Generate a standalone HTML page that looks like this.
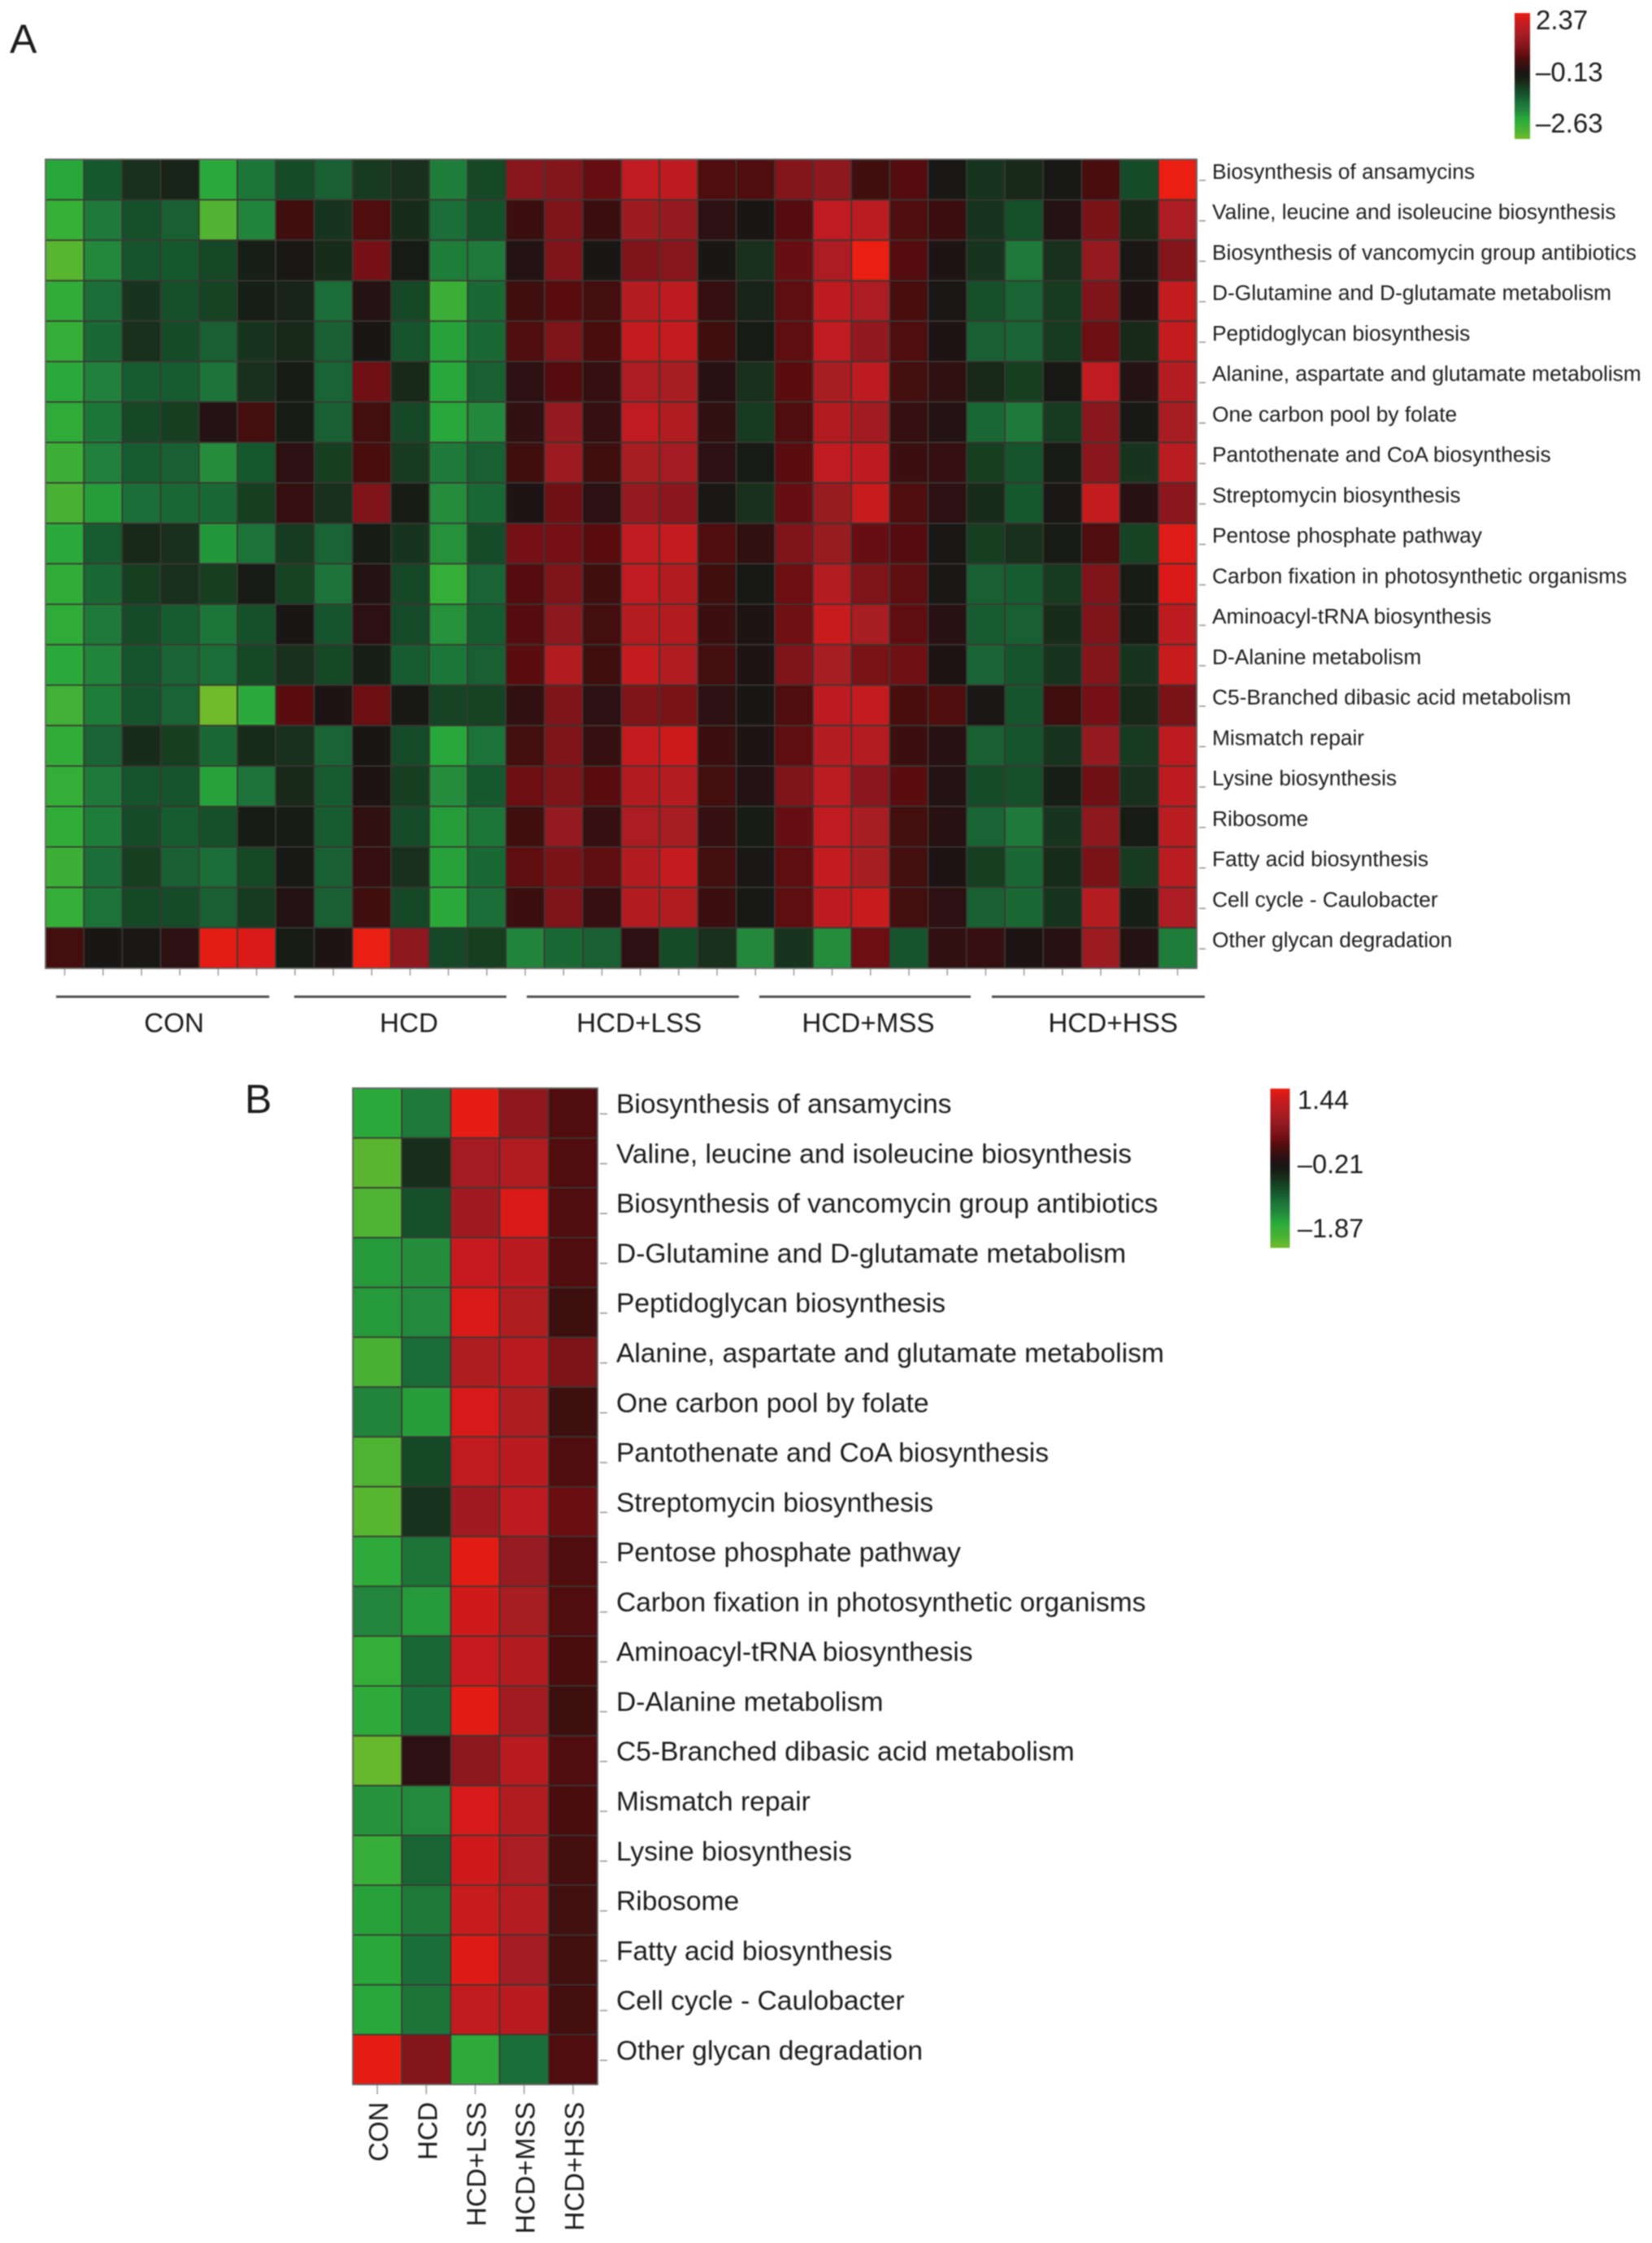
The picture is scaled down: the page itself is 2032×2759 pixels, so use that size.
<!DOCTYPE html>
<html lang="en">
<head>
<meta charset="utf-8">
<title>Pathway heatmaps</title>
<style>
html,body{margin:0;padding:0;background:#fff;}
#chart{display:block;width:2032px;height:2759px;filter:blur(0.7px);}
text{font-family:"Liberation Sans",Arial,sans-serif;fill:#1c1c1c;}
</style>
</head>
<body>
<svg id="chart" xmlns="http://www.w3.org/2000/svg" width="2032" height="2759" viewBox="0 0 2032 2759"></svg>
<script>
const pathways = [
"Biosynthesis of ansamycins",
"Valine, leucine and isoleucine biosynthesis",
"Biosynthesis of vancomycin group antibiotics",
"D-Glutamine and D-glutamate metabolism",
"Peptidoglycan biosynthesis",
"Alanine, aspartate and glutamate metabolism",
"One carbon pool by folate",
"Pantothenate and CoA biosynthesis",
"Streptomycin biosynthesis",
"Pentose phosphate pathway",
"Carbon fixation in photosynthetic organisms",
"Aminoacyl-tRNA biosynthesis",
"D-Alanine metabolism",
"C5-Branched dibasic acid metabolism",
"Mismatch repair",
"Lysine biosynthesis",
"Ribosome",
"Fatty acid biosynthesis",
"Cell cycle - Caulobacter",
"Other glycan degradation"
];
const groups = ["CON","HCD","HCD+LSS","HCD+MSS","HCD+HSS"];
const legendTicksA = [2.37,-0.13,-2.63];
const legendTicksB = [1.44,-0.21,-1.87];
const valuesA = [
[-1.8,-0.9,-0.45,-0.3,-1.85,-1.25,-0.75,-1.0,-0.55,-0.45,-1.35,-0.7,1.1,1.05,0.75,1.9,1.85,0.55,0.55,1.05,1.2,0.4,0.6,-0.05,-0.5,-0.35,-0.1,0.5,-0.75,2.37],
[-2.05,-1.3,-0.8,-1.0,-2.35,-1.45,0.4,-0.5,0.55,-0.4,-1.15,-0.8,0.35,1.0,0.35,1.4,1.3,0.2,0.0,0.6,1.9,1.8,0.55,0.35,-0.5,-0.8,0.1,0.95,-0.35,1.6],
[-2.4,-1.5,-0.85,-0.9,-0.7,-0.25,-0.05,-0.4,0.9,-0.15,-1.35,-1.3,0.1,1.0,0.0,1.0,1.1,0.0,-0.45,0.75,1.6,2.37,0.6,0.05,-0.5,-1.3,-0.45,1.3,-0.05,1.05],
[-1.95,-1.15,-0.5,-0.8,-0.65,-0.25,-0.3,-1.15,0.1,-0.7,-2.1,-1.1,0.4,0.65,0.45,1.75,1.85,0.3,-0.3,0.7,1.85,1.6,0.5,-0.05,-0.8,-1.05,-0.55,1.0,0.05,1.95],
[-2.0,-1.1,-0.45,-0.75,-1.0,-0.5,-0.35,-1.0,0.0,-0.85,-1.75,-1.1,0.55,1.0,0.5,1.95,1.95,0.4,-0.15,0.7,1.9,1.25,0.55,0.05,-1.0,-1.05,-0.55,0.8,-0.35,1.95],
[-1.85,-1.4,-0.95,-0.95,-1.2,-0.45,-0.2,-1.05,0.85,-0.35,-1.8,-1.0,0.2,0.6,0.3,1.6,1.55,0.15,-0.45,0.65,1.55,1.85,0.45,0.25,-0.35,-0.6,-0.1,1.9,0.1,1.75],
[-1.9,-1.25,-0.7,-0.6,0.1,0.45,-0.2,-1.0,0.45,-0.7,-1.8,-1.5,0.25,1.3,0.3,1.9,1.65,0.25,-0.55,0.55,1.7,1.45,0.3,0.1,-1.1,-1.3,-0.55,1.15,-0.1,1.55],
[-2.1,-1.4,-0.95,-1.0,-1.55,-0.9,0.2,-0.6,0.5,-0.55,-1.3,-1.0,0.4,1.4,0.4,1.55,1.5,0.2,-0.15,0.65,1.9,1.85,0.35,0.3,-0.6,-0.85,-0.15,1.15,-0.5,1.8],
[-2.25,-1.7,-1.15,-1.1,-1.1,-0.6,0.3,-0.45,1.0,-0.2,-1.55,-1.1,0.05,0.85,0.2,1.3,1.15,-0.05,-0.45,0.75,1.35,2.0,0.55,0.2,-0.4,-0.9,-0.05,1.95,0.15,1.15],
[-1.85,-0.95,-0.35,-0.45,-1.65,-1.2,-0.55,-1.05,-0.2,-0.5,-1.6,-0.75,0.9,0.9,0.65,1.9,1.95,0.55,0.25,1.0,1.35,0.75,0.6,-0.05,-0.6,-0.45,-0.15,0.55,-0.65,2.25],
[-1.95,-1.1,-0.6,-0.45,-0.6,-0.15,-0.65,-1.2,0.1,-0.7,-2.0,-1.05,0.6,1.0,0.4,1.9,1.7,0.4,-0.1,0.8,1.75,1.0,0.7,-0.05,-1.0,-0.95,-0.55,1.0,-0.2,2.2],
[-1.9,-1.3,-0.75,-0.95,-1.25,-0.8,0.0,-0.85,0.2,-0.75,-1.6,-0.95,0.6,1.2,0.45,1.75,1.7,0.35,0.05,0.85,2.0,1.55,0.7,0.15,-0.95,-1.0,-0.4,1.0,-0.2,1.85],
[-1.85,-1.45,-0.85,-1.05,-1.15,-0.7,-0.45,-0.7,-0.25,-0.95,-1.25,-1.0,0.65,1.7,0.4,1.95,1.65,0.45,0.05,1.0,1.55,0.95,0.85,0.05,-1.05,-0.85,-0.5,1.05,-0.5,2.0],
[-2.15,-1.35,-0.85,-1.05,-2.6,-1.85,0.65,0.05,0.8,-0.1,-0.65,-0.65,0.25,1.0,0.2,1.0,0.95,0.2,0.0,0.55,1.85,1.95,0.5,0.55,-0.05,-0.85,0.4,0.9,-0.35,0.95],
[-1.95,-1.05,-0.4,-0.6,-1.1,-0.4,-0.45,-1.05,0.0,-0.75,-1.8,-1.2,0.45,1.0,0.3,1.95,2.05,0.35,0.05,0.7,1.75,1.75,0.35,0.15,-1.0,-0.85,-0.5,1.3,-0.55,1.85],
[-2.0,-1.3,-0.85,-0.85,-1.75,-1.2,-0.35,-0.95,0.05,-0.6,-1.55,-0.9,0.8,1.0,0.65,1.7,1.75,0.45,0.1,1.0,1.8,1.15,0.65,0.1,-0.75,-0.8,-0.25,0.85,-0.45,1.85],
[-1.95,-1.35,-0.75,-0.95,-0.8,-0.2,-0.2,-0.95,0.25,-0.75,-1.7,-1.25,0.4,1.3,0.3,1.6,1.55,0.3,-0.2,0.75,1.9,1.55,0.45,0.15,-1.05,-1.3,-0.5,1.2,-0.15,1.8],
[-2.1,-1.15,-0.6,-1.0,-1.15,-0.7,-0.1,-1.0,0.3,-0.45,-1.75,-1.1,0.7,0.95,0.7,1.7,1.95,0.45,-0.05,0.7,1.95,1.55,0.45,0.05,-0.6,-1.1,-0.4,0.95,-0.55,1.8],
[-2.0,-1.2,-0.7,-0.75,-1.0,-0.55,0.1,-1.0,0.4,-0.7,-1.85,-1.15,0.35,1.0,0.3,1.7,1.65,0.35,-0.1,0.7,1.85,2.0,0.45,0.2,-1.0,-1.1,-0.5,1.75,-0.25,1.6],
[0.45,0.0,-0.05,0.2,2.3,2.2,-0.2,0.05,2.37,1.2,-0.7,-0.6,-1.45,-1.1,-1.0,0.2,-0.75,-0.45,-1.5,-0.5,-1.55,0.8,-0.85,0.25,0.3,0.05,0.15,1.4,0.1,-1.35]
];
const valuesB = [
[-1.34,-0.99,1.41,0.67,0.25],
[-1.73,-0.41,0.87,0.98,0.25],
[-1.67,-0.66,0.82,1.33,0.24],
[-1.24,-1.17,1.18,1.08,0.25],
[-1.24,-1.14,1.33,0.95,0.12],
[-1.63,-0.87,0.95,1.08,0.50],
[-1.09,-1.25,1.30,0.95,0.12],
[-1.67,-0.61,1.15,1.08,0.24],
[-1.72,-0.44,0.82,1.10,0.40],
[-1.37,-0.94,1.38,0.75,0.25],
[-1.12,-1.24,1.25,0.90,0.24],
[-1.45,-0.84,1.18,1.00,0.20],
[-1.37,-0.90,1.38,0.83,0.12],
[-1.81,0.01,0.65,1.06,0.25],
[-1.20,-1.14,1.30,0.98,0.20],
[-1.47,-0.82,1.25,0.92,0.17],
[-1.29,-1.00,1.20,1.03,0.14],
[-1.33,-0.90,1.35,0.87,0.15],
[-1.32,-0.94,1.15,1.06,0.17],
[1.41,0.57,-1.37,-0.90,0.24]
];

/* colour ramp on normalised position t in [-1, 1] */
const rampT = [-1,-0.87,-0.75,-0.67,-0.55,-0.43,-0.35,-0.27,-0.19,-0.11,-0.03,0.05,0.13,0.21,0.29,0.37,0.45,0.57,0.69,0.81,0.93,1];
const rampC = ["#72bb2a","#4cb233","#35ae38","#28a83a","#23873c","#1c7339","#186032","#15502b","#163f22","#182c1a","#171d15","#191616","#2c1012","#3f0f0f","#530c0e","#6b0e12","#7f141a","#941a20","#ab1d22","#bf1b20","#d81a18","#ea1e12"];

function hexRgb(h){return [parseInt(h.slice(1,3),16),parseInt(h.slice(3,5),16),parseInt(h.slice(5,7),16)];}
function rampColor(t){
  t=Math.max(-1,Math.min(1,t));
  let i=0;
  while(i<rampT.length-2 && t>rampT[i+1]) i++;
  const f=(t-rampT[i])/(rampT[i+1]-rampT[i]);
  const a=hexRgb(rampC[i]),b=hexRgb(rampC[i+1]);
  const c=a.map((v,k)=>Math.round(v+(b[k]-v)*f));
  return "rgb("+c.join(",")+")";
}
const svg=document.getElementById("chart");
const NS="http://www.w3.org/2000/svg";
function mk(tag,attrs,parent){
  const e=document.createElementNS(NS,tag);
  for(const k in attrs) e.setAttribute(k,attrs[k]);
  parent.appendChild(e);
  return e;
}
function fmt(v){return (v<0?"\u2013":"")+Math.abs(v).toFixed(2);}

function drawHeatmap(panel,box,values,tickMax,tickMin){
  const nRows=values.length,nCols=values[0].length;
  const xScale=c=>box.left+(box.right-box.left)*c/nCols;
  const yScale=r=>box.top+(box.bottom-box.top)*r/nRows;
  const mid=(tickMax+tickMin)/2,half=(tickMax-tickMin)/2;
  const colorOf=v=>rampColor((v-mid)/half);
  values.forEach((row,r)=>{
    row.forEach((v,c)=>{
      const cell=mk("rect",{x:xScale(c),y:yScale(r),width:xScale(c+1)-xScale(c),height:yScale(r+1)-yScale(r),fill:colorOf(v),stroke:"#3b3733","stroke-width":1.6},panel);
      
      
    });
  });
  const frame=mk("rect",{x:box.left,y:box.top,width:box.right-box.left,height:box.bottom-box.top,fill:"none",stroke:"#6a6a6a","stroke-width":1.6},panel);
  
  
  pathways.forEach((name,r)=>{
    const yc=(yScale(r)+yScale(r+1))/2;
    const tick=mk("line",{x1:box.right+box.tickGap,x2:box.right+box.tickEnd,y1:yc+1,y2:yc+1,stroke:"#999","stroke-width":1.6},panel);
    
    
    const label=mk("text",{x:box.labelX,y:yc+box.labelDy,"font-size":box.labelSize},panel);
    label.textContent=name;
    
    
  });
  for(let c=0;c<nCols;c++){
    const xc=(xScale(c)+xScale(c+1))/2;
    const tick=mk("line",{x1:xc,x2:xc,y1:box.bottom+1,y2:box.bottom+box.xTick,stroke:"#a0a0a0","stroke-width":1.6},panel);
    
    
  }
  return {xScale,yScale};
}
function drawLegend(panel,id,lg,ticks){
  const defs=mk("defs",{},panel);
  const grad=mk("linearGradient",{id:id,x1:0,y1:0,x2:0,y2:1},defs);
  for(let i=rampT.length-1;i>=0;i--){
    mk("stop",{offset:(1-(rampT[i]+1)/2),"stop-color":rampC[i]},grad);
  }
  const bar=mk("rect",{x:lg.x,y:lg.y,width:lg.w,height:lg.h,fill:"url(#"+id+")"},panel);
  
  
  ticks.forEach((v,i)=>{
    const t=mk("text",{x:lg.textX,y:lg.base[i],"font-size":lg.size},panel);
    t.textContent=fmt(v);
    
    
  });
}

/* ---------- Panel A ---------- */
const panelA=mk("g",{},svg);


const letterA=mk("text",{x:12,y:65,"font-size":50},panelA);
letterA.textContent="A";


const axA=drawHeatmap(panelA,{left:56,right:1472,top:196,bottom:1191,tickGap:3,tickEnd:11,labelX:1491,labelSize:26.3,labelDy:-1,xTick:9},valuesA,2.37,-2.63);
drawLegend(panelA,"legend-a",{x:1863,y:16,w:19,h:155,textX:1889,base:[36,100,163],size:33},legendTicksA);
const lineSpansA=[[0.275,5.83],[6.48,12.01],[12.54,18.07],[18.6,24.11],[24.66,30.21]];
const labelCentresA=[3.35,9.47,15.47,21.44,27.82];
groups.forEach((g,i)=>{
  const ln=mk("line",{x1:axA.xScale(lineSpansA[i][0]),x2:axA.xScale(lineSpansA[i][1]),y1:1226,y2:1226,stroke:"#505050","stroke-width":3},panelA);
  
  
  const t=mk("text",{x:axA.xScale(labelCentresA[i]),y:1269.5,"font-size":33.2,"text-anchor":"middle"},panelA);
  t.textContent=g;
  
  
});

/* ---------- Panel B ---------- */
const panelB=mk("g",{},svg);


const letterB=mk("text",{x:301,y:1369,"font-size":50},panelB);
letterB.textContent="B";


const axB=drawHeatmap(panelB,{left:434,right:735,top:1338.5,bottom:2564,tickGap:3,tickEnd:12,labelX:758,labelSize:33.6,labelDy:0,xTick:12},valuesB,1.44,-1.87);
drawLegend(panelB,"legend-b",{x:1562.5,y:1339,w:24,h:196,textX:1596,base:[1364,1443,1522],size:32.5},legendTicksB);
groups.forEach((g,i)=>{
  const xc=(axB.xScale(i)+axB.xScale(i+1))/2+13;
  const t=mk("text",{transform:"translate("+xc+",2585.5) rotate(-90)",x:0,y:0,"font-size":33,"text-anchor":"end"},panelB);
  t.textContent=g;
  
  
});
</script>
</body>
</html>
